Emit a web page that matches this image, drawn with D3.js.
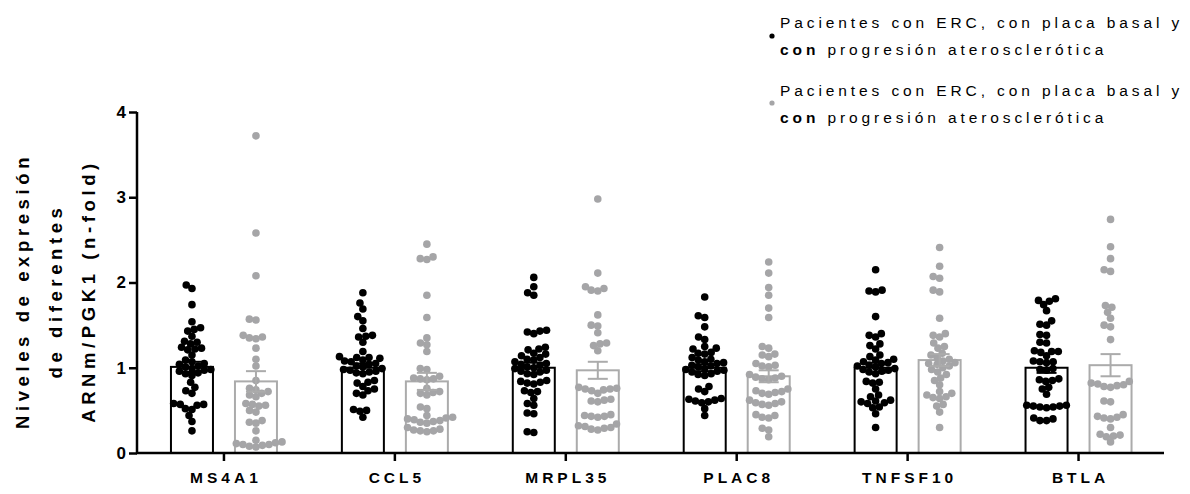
<!DOCTYPE html>
<html>
<head>
<meta charset="utf-8">
<script src="https://cdn.jsdelivr.net/npm/d3@7"></script>
<style>
  body { margin: 0; background: #fff; }
  svg text { font-family: "Liberation Sans", Arial, sans-serif; }
</style>
</head>
<body>
<svg id="chart" width="1190" height="494"></svg>
<script>
// genes on the x axis
var genes = ["MS4A1", "CCL5", "MRPL35", "PLAC8", "TNFSF10", "BTLA"];

// individual values, black group (con progresion)
var blackValues = [
  [1.97,1.93,1.74,1.54,1.47,1.45,1.43,1.37,1.31,1.30,1.28,1.24,1.23,1.22,1.21,1.15,1.09,1.07,1.05,1.04,1.02,1.01,0.99,0.98,0.97,0.96,0.94,0.93,0.91,0.83,0.77,0.73,0.70,0.58,0.57,0.57,0.56,0.52,0.51,0.44,0.37,0.26],
  [1.88,1.76,1.69,1.60,1.55,1.46,1.38,1.37,1.36,1.30,1.19,1.13,1.12,1.12,1.11,1.09,1.08,1.07,1.05,1.04,1.02,1.01,0.99,0.98,0.97,0.96,0.95,0.94,0.93,0.85,0.83,0.82,0.78,0.75,0.73,0.70,0.68,0.51,0.50,0.49,0.42],
  [2.06,1.95,1.88,1.85,1.44,1.43,1.42,1.40,1.24,1.22,1.21,1.17,1.16,1.14,1.12,1.10,1.09,1.07,1.05,1.04,1.03,1.01,1.00,0.99,0.97,0.96,0.95,0.93,0.92,0.85,0.84,0.83,0.82,0.81,0.73,0.72,0.71,0.64,0.58,0.56,0.47,0.46,0.25,0.24],
  [1.83,1.61,1.59,1.48,1.36,1.33,1.25,1.23,1.22,1.18,1.17,1.16,1.12,1.10,1.09,1.07,1.06,1.05,1.03,1.02,1.01,0.99,0.98,0.97,0.96,0.95,0.93,0.92,0.91,0.78,0.75,0.72,0.64,0.63,0.62,0.61,0.60,0.59,0.52,0.44],
  [2.15,1.91,1.90,1.89,1.60,1.40,1.38,1.36,1.28,1.26,1.22,1.15,1.13,1.10,1.09,1.07,1.06,1.05,1.03,1.02,1.01,0.99,0.98,0.97,0.96,0.95,0.93,0.84,0.83,0.82,0.75,0.68,0.66,0.62,0.61,0.60,0.59,0.58,0.54,0.53,0.46,0.30],
  [1.81,1.79,1.78,1.74,1.67,1.55,1.51,1.50,1.39,1.38,1.30,1.29,1.20,1.19,1.19,1.18,1.14,1.08,1.07,1.07,1.06,0.99,0.98,0.97,0.87,0.86,0.85,0.84,0.77,0.75,0.69,0.56,0.55,0.54,0.53,0.54,0.55,0.56,0.40,0.38,0.38,0.41]
];

// individual values, gray group
var grayValues = [
  [3.72,2.58,2.08,1.57,1.56,1.38,1.36,1.35,1.34,1.23,1.10,1.02,0.85,0.76,0.74,0.72,0.70,0.68,0.66,0.58,0.57,0.56,0.55,0.50,0.48,0.38,0.36,0.35,0.26,0.15,0.13,0.12,0.11,0.10,0.10,0.09,0.08,0.07],
  [2.45,2.30,2.28,2.27,1.85,1.59,1.35,1.29,1.27,1.19,0.99,0.98,0.90,0.88,0.87,0.87,0.86,0.76,0.72,0.71,0.70,0.68,0.54,0.52,0.44,0.42,0.41,0.40,0.39,0.38,0.37,0.36,0.35,0.30,0.28,0.27,0.26,0.26,0.25],
  [2.98,2.11,1.95,1.93,1.91,1.90,1.62,1.50,1.49,1.41,1.29,1.28,1.26,1.20,0.77,0.76,0.75,0.75,0.74,0.73,0.70,0.63,0.62,0.61,0.60,0.45,0.44,0.43,0.43,0.42,0.34,0.32,0.31,0.29,0.28,0.27,0.30],
  [2.24,2.11,1.94,1.85,1.70,1.59,1.25,1.23,1.16,1.15,1.13,1.05,1.03,1.02,1.01,0.92,0.90,0.89,0.88,0.87,0.86,0.75,0.73,0.72,0.71,0.70,0.69,0.62,0.60,0.59,0.58,0.57,0.56,0.45,0.44,0.42,0.41,0.29,0.27,0.19],
  [2.41,2.19,2.07,2.05,1.91,1.89,1.58,1.40,1.38,1.36,1.29,1.25,1.23,1.17,1.15,1.12,1.10,1.08,1.06,1.05,1.04,1.02,1.00,0.98,0.95,0.92,0.88,0.85,0.80,0.72,0.70,0.68,0.66,0.65,0.64,0.57,0.55,0.48,0.30],
  [2.74,2.42,2.28,2.15,2.13,1.73,1.71,1.65,1.58,1.50,1.48,1.33,0.84,0.82,0.81,0.80,0.79,0.78,0.77,0.61,0.60,0.45,0.43,0.42,0.41,0.40,0.30,0.22,0.21,0.20,0.19,0.13]
];

// bar heights (mean) and error (SEM)
var blackMean = [1.01, 1.00, 1.00, 1.00, 1.00, 1.00];
var blackSem  = [0.06, 0.05, 0.06, 0.04, 0.06, 0.06];
var grayMean  = [0.84, 0.84, 0.97, 0.90, 1.09, 1.03];
var graySem   = [0.12, 0.10, 0.10, 0.07, 0.07, 0.13];

var yTicks = [0, 1, 2, 3, 4];
var yTitle = ["Niveles de expresión", "de diferentes", "ARNm/PGK1 (n-fold)"];
var legendLines = ["Pacientes con ERC, con placa basal y", "progresión aterosclerótica"];

var BLACK = "#000", GRAY = "#a5a5a7", GRAYBAR = "#ababab";

var svg = d3.select("#chart");

var x = d3.scaleBand().domain(genes).range([138.5, 1164]);
var y = d3.scaleLinear().domain([0, 4]).range([453, 112]);

var barW = 42, off = 32, r = 3.8;

// bars first (white fill)
var groups = svg.append("g").selectAll("g").data(genes).enter().append("g");

groups.append("rect")
    .attr("x", function (d) { return x(d) + x.bandwidth() / 2 - off - barW / 2; })
    .attr("y", function (d, i) { return y(blackMean[i]); })
    .attr("width", barW)
    .attr("height", function (d, i) { return y(0) - y(blackMean[i]); })
    .attr("fill", "#fff").attr("stroke", BLACK).attr("stroke-width", 2);

groups.append("rect")
    .attr("x", function (d) { return x(d) + x.bandwidth() / 2 + off - barW / 2; })
    .attr("y", function (d, i) { return y(grayMean[i]); })
    .attr("width", barW)
    .attr("height", function (d, i) { return y(0) - y(grayMean[i]); })
    .attr("fill", "#fff").attr("stroke", GRAYBAR).attr("stroke-width", 2);

// simple beeswarm, lowest values first so the clumps open upward like a V
function swarm(values, cx) {
    var placed = [], out = [];
    var dmin = r * 1.75;
    values.slice().sort(function (a, b) { return a - b; }).forEach(function (v) {
        var py = y(v), ivals = [];
        placed.forEach(function (p) {
            var dy = Math.abs(p.y - py);
            if (dy < dmin) {
                var dx = Math.sqrt(dmin * dmin - dy * dy);
                ivals.push([p.dx - dx, p.dx + dx]);
            }
        });
        var cands = [0];
        ivals.forEach(function (iv) { cands.push(iv[0], iv[1]); });
        cands = cands.filter(function (c) {
            return ivals.every(function (iv) { return c <= iv[0] + 1e-6 || c >= iv[1] - 1e-6; });
        });
        cands.sort(function (a, b) { return Math.abs(a) - Math.abs(b); });
        var p = {dx: cands[0], y: py};
        placed.push(p);
        out.push({x: cx + p.dx, y: py});
    });
    return out;
}

genes.forEach(function (g, i) {
    var c = x(g) + x.bandwidth() / 2;
    svg.append("g").selectAll("circle").data(swarm(blackValues[i], c - off)).enter()
        .append("circle").attr("cx", function (d) { return d.x; }).attr("cy", function (d) { return d.y; })
        .attr("r", r).attr("fill", BLACK);
    svg.append("g").selectAll("circle").data(swarm(grayValues[i], c + off)).enter()
        .append("circle").attr("cx", function (d) { return d.x; }).attr("cy", function (d) { return d.y; })
        .attr("r", r).attr("fill", GRAY);
});

// error bars (mean +/- SEM)
function errBar(cx, m, s, col) {
    var e = svg.append("g").attr("stroke", col).attr("stroke-width", 2);
    e.append("line").attr("x1", cx).attr("x2", cx).attr("y1", y(m + s)).attr("y2", y(m - s));
    e.append("line").attr("x1", cx - 10).attr("x2", cx + 10).attr("y1", y(m + s)).attr("y2", y(m + s));
    e.append("line").attr("x1", cx - 10).attr("x2", cx + 10).attr("y1", y(m - s)).attr("y2", y(m - s));
}
genes.forEach(function (g, i) {
    var c = x(g) + x.bandwidth() / 2;
    errBar(c - off, blackMean[i], blackSem[i], BLACK);
    errBar(c + off, grayMean[i], graySem[i], GRAYBAR);
});

// axes
var yAxis = svg.append("g").attr("transform", "translate(137,0)")
    .call(d3.axisLeft(y).tickValues(yTicks).tickFormat(d3.format("d")).tickSize(8).tickPadding(3));
yAxis.select(".domain").attr("stroke-width", 2.5).attr("d", "M0," + y(4) + "V" + y(0));
yAxis.selectAll(".tick line").attr("stroke-width", 2.5);
yAxis.selectAll(".tick text").attr("font-size", 17).attr("font-weight", "bold")
    .attr("font-family", "'Liberation Sans', Arial, sans-serif").attr("fill", "#000");

var xAxis = svg.append("g").attr("transform", "translate(0," + y(0) + ")")
    .call(d3.axisBottom(x).tickSize(8).tickPadding(11));
xAxis.select(".domain").attr("stroke-width", 2.5).attr("d", "M136,0H1164");
xAxis.selectAll(".tick line").attr("stroke-width", 2.5);
xAxis.selectAll(".tick text").attr("font-size", 15.5).attr("font-weight", "bold")
    .attr("font-family", "'Liberation Sans', Arial, sans-serif").attr("fill", "#000")
    .attr("letter-spacing", "4px").attr("dx", "2px");

// y axis title, three lines
var tt = svg.append("text")
    .attr("transform", "translate(0,291) rotate(-90)")
    .attr("text-anchor", "middle").attr("font-size", 18.5).attr("font-weight", "bold")
    .attr("letter-spacing", "4.6px");
yTitle.forEach(function (t, i) {
    tt.append("tspan").attr("x", 0).attr("y", 29 + i * 33).text(t);
});

// legend
var leg = svg.append("g").attr("font-size", 15.5).attr("letter-spacing", "3.9px").attr("fill", "#000");
[{cy: 36, col: BLACK, ty: 28}, {cy: 103, col: GRAY, ty: 96}].forEach(function (L) {
    leg.append("circle").attr("cx", 772).attr("cy", L.cy).attr("r", 2.6).attr("fill", L.col);
    leg.append("text").attr("x", 780).attr("y", L.ty).text(legendLines[0]);
    var t2 = leg.append("text").attr("x", 780).attr("y", L.ty + 27);
    t2.append("tspan").attr("font-weight", "bold").text("con");
    t2.append("tspan").text(" " + legendLines[1]);
});
</script>
</body>
</html>
